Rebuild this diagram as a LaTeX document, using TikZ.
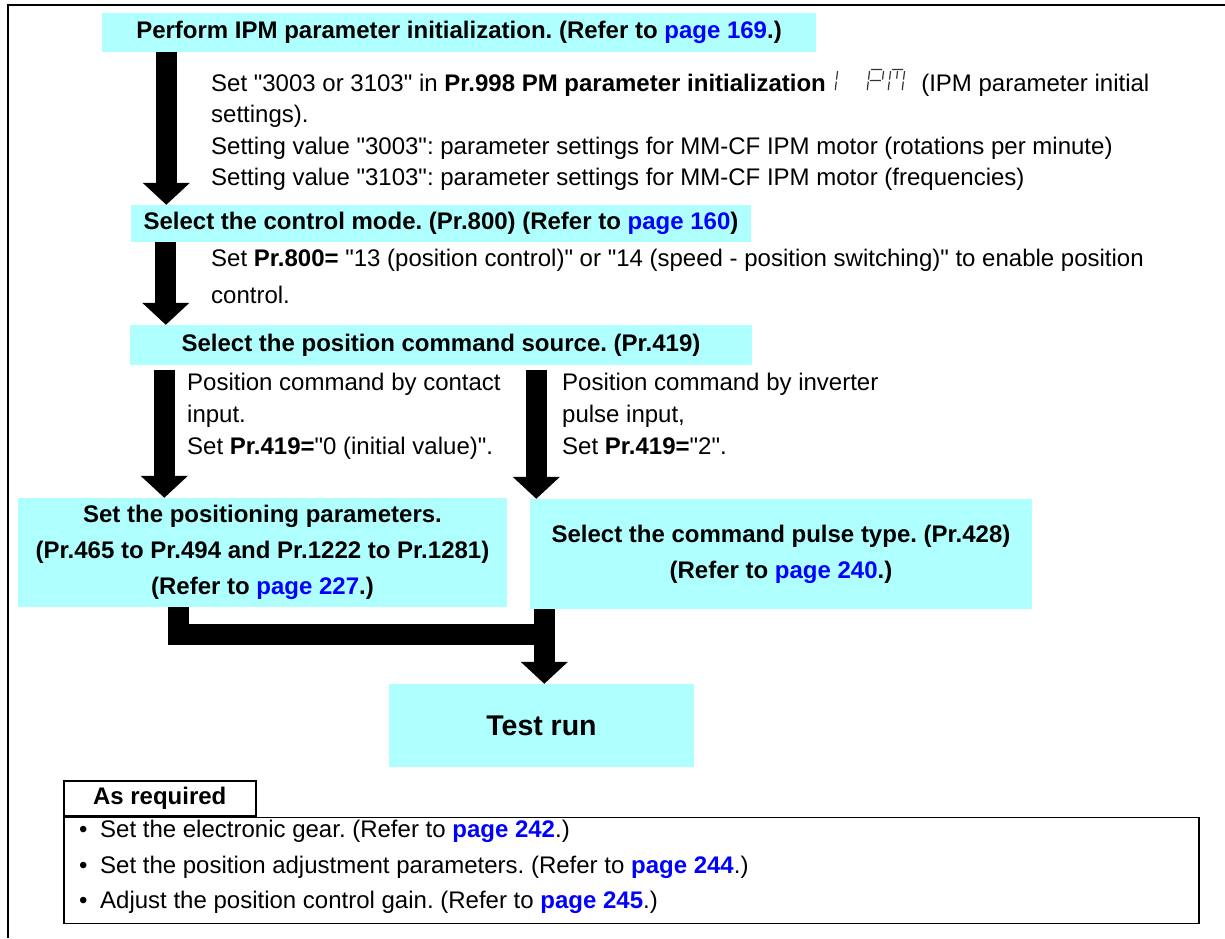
\documentclass[tikz,border=0pt]{standalone}
\usepackage{fontspec}
\setmainfont{Liberation Sans}[Ligatures=TeXOff]
\usetikzlibrary{arrows.meta, positioning, calc}
\definecolor{StepCyan}{RGB}{176, 255, 255}
\definecolor{LinkBlue}{RGB}{0, 0, 255}
\newcommand{\pagelink}[1]{\textcolor{LinkBlue}{#1}}
\frenchspacing

\begin{document}
\begin{tikzpicture}[x=1pt, y=-1pt,
  stepbox/.style={fill=StepCyan, inner sep=0pt, align=center, font=\fontsize{24}{36}\selectfont\bfseries},
  note/.style={inner sep=0pt, align=left, anchor=north west, font=\fontsize{24}{31.5}\selectfont},
  flow/.style={line width=21pt, line join=miter},
  flowarrow/.style={flow, -{Triangle[length=22pt, width=46pt]}},
  seg/.style={line width=1.2pt, black!80}]
\useasboundingbox (0,0) rectangle (1225,938);
\draw[line width=2pt] (8,938) -- (8,5) -- (1225,5);

\node[stepbox, minimum width=714pt, minimum height=39pt] (init) at (459,32.5)
  {Perform IPM parameter initialization. (Refer to \pagelink{page 169}.)};
\node[stepbox, minimum width=620pt, minimum height=37pt] (mode) at (441,223.5)
  {Select the control mode. (Pr.800) (Refer to \pagelink{page 160})};
\node[stepbox, minimum width=622pt, minimum height=40pt] (source) at (441,345)
  {Select the position command source. (Pr.419)};
\node[stepbox, minimum width=489pt, minimum height=109pt] (posbox) at (262.5,552.5)
  {Set the positioning parameters.\\(Pr.465 to Pr.494 and Pr.1222 to Pr.1281)\\(Refer to \pagelink{page 227}.)};
\node[stepbox, minimum width=502pt, minimum height=110pt] (pulse) at (781,554)
  {Select the command pulse type. (Pr.428)\\(Refer to \pagelink{page 240}.)};
\node[stepbox, minimum width=305pt, minimum height=83pt, font=\fontsize{28.5}{34}\selectfont\bfseries] (test) at (541.5,725.5) {Test run};

\node[note] (initA) at (211,74) {Set "3003 or 3103" in \textbf{Pr.998 PM parameter initialization}};
\coordinate (display) at ([xshift=9pt]initA.base east);
\begin{scope}[shift={(display)}, xslant=0.12]
  % I
  \draw[seg] (0,-20.5) -- (0,-12) (0,-10) -- (0,-1.5);
  % P
  \draw[seg] (33.5,-22) -- (44.5,-22) (32,-20.5) -- (32,-12) (46,-20.5) -- (46,-12)
    (33.5,-11) -- (44.5,-11) (32,-10) -- (32,-1.5);
  % M
  \draw[seg] (54.5,-22) -- (65.5,-22) (53,-20.5) -- (53,-12) (53,-10) -- (53,-1.5)
    (67,-20.5) -- (67,-12) (67,-10) -- (67,-1.5) (60,-20.5) -- (60,-13);
\end{scope}
\node[note, anchor=base west] (initB) at ([xshift=86pt]display) {(IPM parameter initial};
\node[note] (initC) at (211,105) {settings).\\Setting value "3003": parameter settings for MM-CF IPM motor (rotations per minute)\\Setting value "3103": parameter settings for MM-CF IPM motor (frequencies)};

\node[note, font=\fontsize{24}{37}\selectfont] (modetext) at (211,249)
  {Set \textbf{Pr.800=} "13 (position control)" or "14 (speed - position switching)" to enable position\\control.};
\node[note, font=\fontsize{24}{32}\selectfont] (contact) at (187,373)
  {Position command by contact\\input.\\Set \textbf{Pr.419=}"0 (initial value)".};
\node[note, font=\fontsize{24}{32}\selectfont] (inverter) at (562,373)
  {Position command by inverter\\pulse input,\\Set \textbf{Pr.419=}"2".};

\draw[flowarrow] ([xshift=64.5pt]init.south west) -- ([xshift=35.5pt]mode.north west);
\draw[flowarrow] ([xshift=35pt]mode.south west) -- ([xshift=36pt]source.north west);
\draw[flowarrow] ([xshift=34.5pt, yshift=-5pt]source.south west) -- ([xshift=146.5pt]posbox.north west);
\draw[flowarrow] ([xshift=406.5pt, yshift=-5pt]source.south west) -- ([xshift=6.5pt]pulse.north west);
\coordinate (merge) at ([xshift=14.5pt, yshift=-25pt]pulse.south west);
\draw[flow] ([xshift=160.5pt]posbox.south west) |- (merge);
\draw[flowarrow] ([xshift=14.5pt]pulse.south west) -- ([xshift=155.5pt]test.north west);

\node[draw, line width=1.5pt, anchor=north west, minimum width=192pt, minimum height=35pt, inner sep=0pt,
  font=\fontsize{24}{28}\selectfont\bfseries] (req) at (63,780) {As required};
\node[draw, line width=1.5pt, anchor=north west, minimum width=1135pt, minimum height=106pt, inner sep=0pt] (reqlist) at (req.south west) {};
\node[note, font=\fontsize{24}{35.5}\selectfont] (items) at (79,820)
  {\makebox[21pt][l]{•}Set the electronic gear. (Refer to \pagelink{\textbf{page 242}}.)\\
   \makebox[21pt][l]{•}Set the position adjustment parameters. (Refer to \pagelink{\textbf{page 244}}.)\\
   \makebox[21pt][l]{•}Adjust the position control gain. (Refer to \pagelink{\textbf{page 245}}.)};
\end{tikzpicture}
\end{document}
